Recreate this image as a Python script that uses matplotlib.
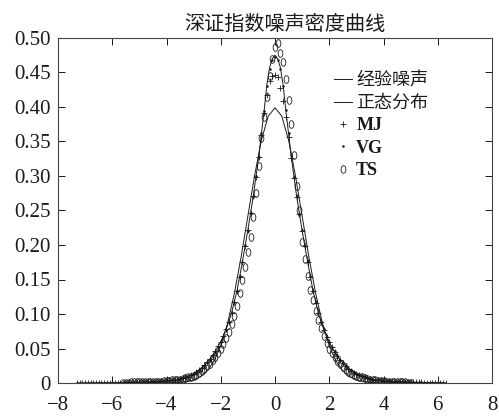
import numpy as np
import matplotlib
matplotlib.use("Agg")
import matplotlib.pyplot as plt
from matplotlib.path import Path

plt.rcParams['font.family'] = ['Liberation Serif', 'Noto Sans CJK SC', 'DejaVu Sans']
plt.rcParams['axes.unicode_minus'] = True

# ---------------- data ----------------
title = "深证指数噪声密度曲线"
labels = ["经验噪声", "正态分布", "MJ", "VG", "TS"]
x_ticks = [-8, -6, -4, -2, 0, 2, 4, 6, 8]
y_ticks = [0, 0.05, 0.10, 0.15, 0.20, 0.25, 0.30, 0.35, 0.40, 0.45, 0.50]
y_ticklabels = ["0", "0.05", "0.10", "0.15", "0.20", "0.25", "0.30", "0.35", "0.40", "0.45", "0.50"]

# empirical noise density (line)
emp_x = [-7.3, -6.0, -5.0, -4.5, -4.0, -3.6, -3.2, -3.0, -2.8, -2.6, -2.4, -2.2, -2.0, -1.8,
         -1.6, -1.4, -1.2, -1.0, -0.8, -0.6, -0.4, -0.3, -0.2, -0.1, 0.0, 0.1, 0.2, 0.3, 0.4,
         0.6, 0.8, 1.0, 1.2, 1.4, 1.6, 1.8, 2.0, 2.2, 2.4, 2.6, 2.8, 3.0, 3.2, 3.6, 4.0, 4.5,
         5.0, 6.0, 6.3]
emp_y = [0.000, 0.0005, 0.001, 0.002, 0.003, 0.005, 0.0095, 0.013, 0.019, 0.026, 0.035, 0.046,
         0.060, 0.078, 0.102, 0.134, 0.176, 0.222, 0.271, 0.328, 0.395, 0.432, 0.457, 0.470,
         0.475, 0.470, 0.457, 0.432, 0.395, 0.328, 0.270, 0.221, 0.176, 0.134, 0.101, 0.077,
         0.059, 0.045, 0.034, 0.025, 0.018, 0.013, 0.0095, 0.005, 0.003, 0.002, 0.001, 0.0005,
         0.000]

# normal density (line)
norm_x = [-7.3, -4.0, -3.75, -3.5, -3.25, -3.0, -2.75, -2.5, -2.25, -2.0, -1.75, -1.5, -1.25,
          -1.0, -0.75, -0.5, -0.25, 0.0, 0.25, 0.5, 0.75, 1.0, 1.25, 1.5, 1.75, 2.0, 2.25,
          2.5, 2.75, 3.0, 3.25, 3.5, 3.75, 4.0, 6.3]
norm_y = [0.0, 0.0001, 0.0004, 0.0009, 0.0020, 0.0044, 0.0091, 0.0175, 0.0317, 0.0540,
          0.0863, 0.1295, 0.1826, 0.2420, 0.3011, 0.3521, 0.3867, 0.3989, 0.3867, 0.3521,
          0.3011, 0.2420, 0.1826, 0.1295, 0.0863, 0.0540, 0.0317, 0.0175, 0.0091, 0.0044,
          0.0020, 0.0009, 0.0004, 0.0001, 0.0]

# marker series, sampled every 0.1 starting at the given x
mj_start = -7.3
mj_y = [0.000] * 24 + [
    0.001, 0.001, 0.001, 0.002, 0.002, 0.002, 0.002, 0.003, 0.003, 0.003,
    0.004, 0.004, 0.005, 0.005, 0.006, 0.007, 0.008, 0.009, 0.011,
    0.013, 0.016, 0.019, 0.022, 0.026, 0.030, 0.035, 0.040, 0.046, 0.053,
    0.060, 0.068, 0.078, 0.089, 0.102, 0.117, 0.134, 0.154, 0.176, 0.199,
    0.222, 0.246, 0.271, 0.298, 0.328, 0.360, 0.392, 0.418, 0.437, 0.445,
    0.447, 0.443, 0.427, 0.408, 0.385, 0.356, 0.326, 0.297, 0.270, 0.245,
    0.221, 0.198, 0.176, 0.154, 0.134, 0.116, 0.101, 0.088, 0.077, 0.067,
    0.059, 0.052, 0.045, 0.039, 0.034, 0.029, 0.025, 0.021, 0.018, 0.015,
    0.013,
    0.011, 0.010, 0.008, 0.007, 0.006, 0.005, 0.005, 0.004, 0.004, 0.003,
    0.003, 0.003, 0.002, 0.002, 0.002, 0.002, 0.001, 0.001, 0.001, 0.001,
    0.001, 0.001, 0.001, 0.001, 0.000, 0.000, 0.000, 0.000, 0.000, 0.000,
    0.000, 0.000, 0.000]

vg_start = -5.6
vg_y = [
    0.000, 0.000, 0.001, 0.001, 0.001, 0.001, 0.001, 0.001, 0.001, 0.002,
    0.002, 0.002, 0.002, 0.003, 0.003, 0.003, 0.003, 0.004, 0.004, 0.005,
    0.005, 0.006, 0.007, 0.008, 0.009, 0.011,
    0.013, 0.015, 0.018, 0.022, 0.025, 0.030, 0.034, 0.040, 0.045, 0.052,
    0.060, 0.067, 0.077, 0.089, 0.101, 0.118, 0.133, 0.155, 0.175, 0.200,
    0.221, 0.247, 0.270, 0.300, 0.327, 0.362, 0.394, 0.430, 0.455, 0.468,
    0.473, 0.468, 0.455, 0.430, 0.396, 0.362, 0.330, 0.298, 0.271, 0.244,
    0.222, 0.198, 0.177, 0.155, 0.133, 0.117, 0.102, 0.088, 0.078, 0.067,
    0.060, 0.052, 0.046, 0.040, 0.034, 0.030, 0.026, 0.022, 0.019, 0.016,
    0.013,
    0.011, 0.010, 0.008, 0.007, 0.006, 0.005, 0.005, 0.004, 0.004, 0.003,
    0.003, 0.003, 0.002, 0.002, 0.002, 0.002, 0.001, 0.001, 0.001, 0.001,
    0.001, 0.001, 0.001, 0.001, 0.000, 0.000, 0.000, 0.000, 0.000, 0.000,
    0.000, 0.000]

ts_start = -5.6
ts_y = [
    0.000, 0.000, 0.000, 0.001, 0.001, 0.001, 0.001, 0.001, 0.001, 0.001,
    0.001, 0.002, 0.002, 0.002, 0.002, 0.003, 0.003, 0.003, 0.004, 0.004,
    0.005, 0.005, 0.006, 0.007, 0.008, 0.009,
    0.010, 0.012, 0.014, 0.017, 0.020, 0.024, 0.028, 0.033, 0.038, 0.044,
    0.050, 0.057, 0.065, 0.074, 0.085, 0.097, 0.111, 0.131, 0.150, 0.168,
    0.190, 0.212, 0.240, 0.276, 0.315, 0.355, 0.385, 0.415, 0.445, 0.470,
    0.487, 0.493, 0.478, 0.465, 0.440, 0.410, 0.375, 0.330, 0.285, 0.250,
    0.205, 0.180, 0.155, 0.135, 0.120, 0.105, 0.091, 0.079, 0.068, 0.058,
    0.050, 0.043, 0.037, 0.032, 0.027, 0.023, 0.019, 0.016, 0.014, 0.012,
    0.010,
    0.009, 0.008, 0.007, 0.006, 0.005, 0.004, 0.004, 0.003, 0.003, 0.003,
    0.002, 0.002, 0.002, 0.001, 0.001, 0.001, 0.001, 0.001, 0.000, 0.000]

step = 0.1

# ---------------- plot ----------------
fig = plt.figure(figsize=(4.99, 4.16), dpi=100)
ax = fig.add_axes([58 / 499, 1 - 383 / 416, 434 / 499, 345 / 416])

ink = '#1a1a1a'
t = np.linspace(0, 2 * np.pi, 40)
ellipse = Path(np.column_stack([0.62 * np.cos(t), np.sin(t)]))

ax.plot(emp_x, emp_y, color=ink, lw=0.7, label=labels[0])
ax.plot(norm_x, norm_y, color=ink, lw=0.7, label=labels[1])

mj_x = mj_start + step * np.arange(len(mj_y))
vg_x = vg_start + step * np.arange(len(vg_y))
ts_x = ts_start + step * np.arange(len(ts_y))
ax.plot(mj_x, mj_y, ls='none', marker='+', ms=4, mew=0.6, color=ink, label=labels[2])
ax.plot(vg_x, vg_y, ls='none', marker='o', ms=1.8, mew=0, color=ink, label=labels[3])
ax.plot(ts_x, ts_y, ls='none', marker=ellipse, ms=5.5, mew=0.6, mfc='none', mec=ink,
        label=labels[4])

ax.set_xlim(-8, 8)
ax.set_ylim(0, 0.5)
ax.set_xticks(x_ticks)
ax.set_yticks(y_ticks)
ax.set_yticklabels(y_ticklabels)
ax.tick_params(direction='in', length=5, width=0.7, top=True, right=True,
               labelsize=15, colors=ink)
ax.tick_params(axis='x', pad=9)
ax.tick_params(axis='y', pad=5)
for s in ax.spines.values():
    s.set_linewidth(0.8)
    s.set_color('#444444')

ax.set_title(title, fontsize=14.5, family=['Noto Sans CJK SC'], pad=6, color=ink, x=0.523)

leg = ax.legend(loc='upper left', bbox_to_anchor=(0.635, 0.90), frameon=False,
                fontsize=13, handlelength=1.0, handletextpad=0.25, labelspacing=0.3,
                borderaxespad=0, borderpad=0)
for i, txt in enumerate(leg.get_texts()):
    txt.set_color(ink)
    if i >= 2:
        txt.set_fontweight('bold')

fig.savefig("out.png", dpi=100, facecolor='white')
